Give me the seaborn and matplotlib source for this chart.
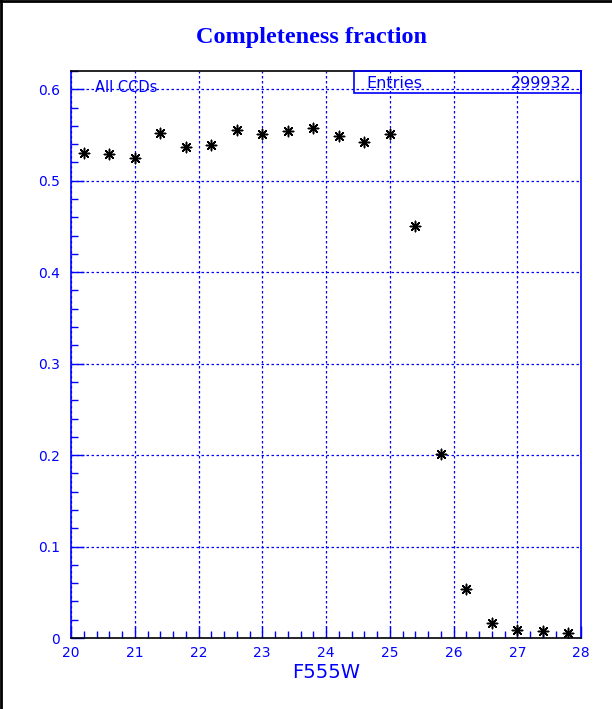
import numpy as np
import pandas as pd
import matplotlib
matplotlib.use('Agg')
import matplotlib.pyplot as plt
import seaborn as sns
from matplotlib.ticker import MultipleLocator
from matplotlib.patches import Rectangle
from matplotlib.lines import Line2D

# datos
magnitud = [20.2, 20.6, 21.0, 21.4, 21.8, 22.2, 22.6, 23.0, 23.4, 23.8,
            24.2, 24.6, 25.0, 25.4, 25.8, 26.2, 26.6, 27.0, 27.4, 27.8]
fraccion = [0.530, 0.529, 0.525, 0.552, 0.537, 0.539, 0.555, 0.551, 0.554, 0.558,
            0.549, 0.542, 0.551, 0.450, 0.201, 0.054, 0.016, 0.009, 0.008, 0.005]
x_ticks = [20, 21, 22, 23, 24, 25, 26, 27, 28]
y_ticks = [0, 0.1, 0.2, 0.3, 0.4, 0.5, 0.6]
y_labels = ['0', '0.1', '0.2', '0.3', '0.4', '0.5', '0.6']
entradas = '299932'

AZUL = '#0000ff'

df = pd.DataFrame({'mag': magnitud, 'frac': fraccion})

sns.set_theme(style='white')
plt.rcParams['font.family'] = ['DejaVu Sans']
plt.rcParams['xtick.direction'] = 'in'
plt.rcParams['ytick.direction'] = 'in'

fig = plt.figure(figsize=(6.12, 7.09), dpi=100)
ax = fig.add_axes([71 / 612, 71 / 709, 510 / 612, 567 / 709])

# marco del canvas (solo izquierda y arriba)
fig.lines.append(Line2D([0.001, 0.001], [0, 1], transform=fig.transFigure, color='black', lw=2))
fig.lines.append(Line2D([0, 1], [0.999, 0.999], transform=fig.transFigure, color='black', lw=2))

sns.scatterplot(data=df, x='mag', y='frac', ax=ax, marker=(8, 2, 0),
                s=55, color='black', edgecolor='black', linewidth=1.1, zorder=3)

ax.set_xlim(20, 28)
ax.set_ylim(0, 0.62)
ax.set_xticks(x_ticks)
ax.set_xticklabels([str(t) for t in x_ticks])
ax.set_yticks(y_ticks)
ax.set_yticklabels(y_labels)
ax.xaxis.set_minor_locator(MultipleLocator(0.2))
ax.yaxis.set_minor_locator(MultipleLocator(0.02))

ax.tick_params(axis='both', which='both', bottom=True, left=True, top=False, right=False,
               direction='in')
ax.tick_params(axis='both', which='major', length=9, width=1,
               colors=AZUL, labelsize=10, pad=6)
ax.tick_params(axis='both', which='minor', length=5, width=1, colors=AZUL)
ax.tick_params(axis='y', which='major', pad=8)

ax.grid(True, which='major', color=AZUL, linestyle=(0, (2, 2)), linewidth=0.9)
ax.set_axisbelow(True)

for lado, col in [('left', AZUL), ('right', AZUL), ('top', 'black'), ('bottom', 'black')]:
    ax.spines[lado].set_color(col)
    ax.spines[lado].set_linewidth(1.2)

ax.set_xlabel('F555W', color=AZUL, fontsize=14, labelpad=2)
ax.set_ylabel('')

fig.text(312 / 612, 1 - 38 / 709, 'Completeness fraction', ha='center', va='center',
         color=AZUL, fontsize=17.5, fontweight='bold', family='Liberation Serif')

ax.text(95 / 612, 1 - 88 / 709, 'All CCDs', transform=fig.transFigure,
        ha='left', va='center', color=AZUL, fontsize=10.5)

# caja de estadisticas
x0 = (354 - 71) / 510
y0 = (638 - 93) / 567
ax.add_patch(Rectangle((x0, y0), 1 - x0, 1 - y0, transform=ax.transAxes,
                       fill=False, edgecolor=AZUL, lw=1.2, clip_on=False, zorder=4))
ax.text(366 / 612, 1 - 83 / 709, 'Entries', transform=fig.transFigure,
        ha='left', va='center', color=AZUL, fontsize=11.5)
ax.text(571 / 612, 1 - 83 / 709, entradas, transform=fig.transFigure,
        ha='right', va='center', color=AZUL, fontsize=11.5)

fig.savefig('out.png', dpi=100)
